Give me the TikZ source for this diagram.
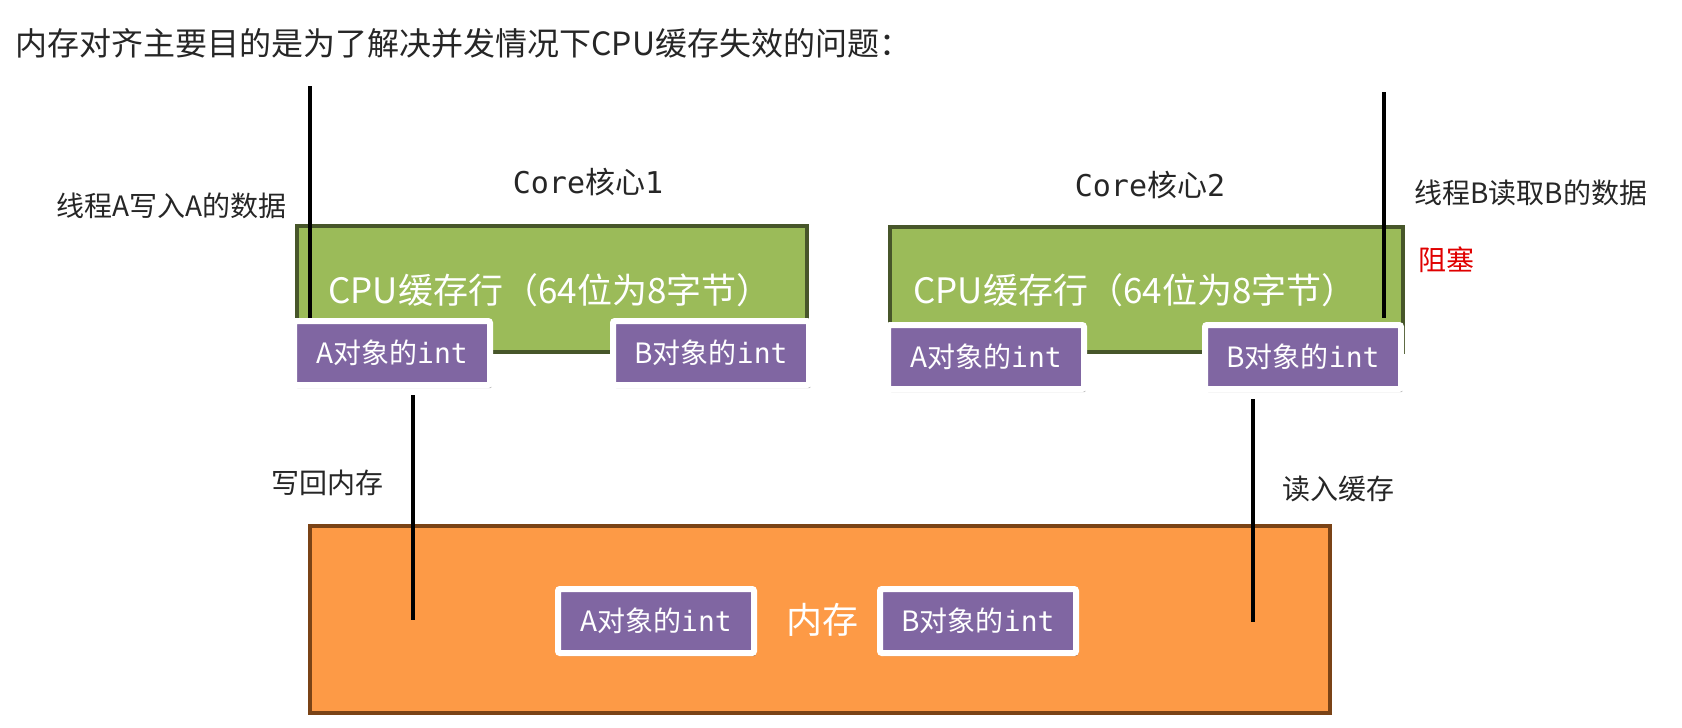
\documentclass[tikz,border=0pt]{standalone}
\usepackage{fontspec}
\setmainfont{Noto Sans CJK SC}
\newfontfamily\monof{DejaVu Sans Mono}
\usetikzlibrary{shadows}
\definecolor{txt}{HTML}{262626}
\definecolor{gfill}{HTML}{9BBB59}
\definecolor{gline}{HTML}{47562A}
\definecolor{ofill}{HTML}{FD9A46}
\definecolor{oline}{HTML}{7A4316}
\definecolor{pfill}{HTML}{8066A2}
\definecolor{blockred}{HTML}{E00000}
\begin{document}
\begin{tikzpicture}[x=0.5pt,y=-0.5pt,
  lbl/.style={font=\fontsize{14}{16}\selectfont, text=txt, inner sep=0, anchor=west},
  corelbl/.style={font=\fontsize{15}{17}\selectfont, text=txt, inner sep=0},
  cachetxt/.style={font=\fontsize{17.5}{20}\selectfont, text=white, inner sep=0},
  greenbox/.style={fill=gfill, draw=gline, line width=1.8pt},
  orangebox/.style={fill=ofill, draw=oline, line width=1.6pt},
  intbox/.style={fill=pfill, draw=white, line width=3pt, minimum width=98pt,
    minimum height=32pt, inner sep=0, text=white, rounded corners=1pt,
    font=\fontsize{14}{16}\selectfont,
    drop shadow={opacity=0.45, fill=black!70, shadow xshift=0.9pt, shadow yshift=-1.6pt}},
  thread/.style={line width=2.2pt, black}]
\useasboundingbox[fill=white] (0,0) rectangle (1682,728);

% title
\node[lbl, font=\fontsize{16}{18}\selectfont] (title) at (15,43) {内存对齐主要目的是为了解决并发情况下CPU缓存失效的问题：};

% cache lines
\draw[greenbox] (297,226) rectangle (807,352);
\draw[greenbox] (890,227) rectangle (1403,352);
\node[corelbl] (core1) at (588,182) {{\monof Core}核心{\monof 1}};
\node[corelbl] (core2) at (1150,185) {{\monof Core}核心{\monof 2}};
\node[cachetxt] (cpu1) at (550,290) {CPU缓存行（64位为8字节）};
\node[cachetxt] (cpu2) at (1135,290) {CPU缓存行（64位为8字节）};

% memory
\draw[orangebox] (310,526) rectangle (1330,713);
\node[font=\fontsize{18}{20}\selectfont, text=white, inner sep=0] (mem) at (822,620) {内存};

% int boxes
\node[intbox] (A1) at (392,353) {A对象的{\monof int}};
\node[intbox] (B1) at (711,353) {B对象的{\monof int}};
\node[intbox] (A2) at (986,357) {A对象的{\monof int}};
\node[intbox] (B2) at (1303,357) {B对象的{\monof int}};
\node[intbox] (Am) at (656,621) {A对象的{\monof int}};
\node[intbox] (Bm) at (978,621) {B对象的{\monof int}};

% labels
\node[lbl] (tA) at (56,206) {线程A写入A的数据};
\node[lbl] (tB) at (1414,193) {线程B读取B的数据};
\node[lbl, text=blockred] (blk) at (1418,260) {阻塞};
\node[lbl] (wb) at (271,483) {写回内存};
\node[lbl] (rd) at (1282,489) {读入缓存};

% thread lines
\coordinate (ta) at (310,86);
\coordinate (tb) at (1384,92);
\coordinate (da) at (413,620);
\coordinate (db) at (1253,622);
\draw[thread] (ta) -- (ta |- A1.north);
\draw[thread] (tb) -- ([yshift=2pt]tb |- B2.north);
\draw[thread] ([yshift=-3.5pt]da |- A1.south) -- (da);
\draw[thread] ([yshift=-3.5pt]db |- B2.south) -- (db);
\end{tikzpicture}
\end{document}
